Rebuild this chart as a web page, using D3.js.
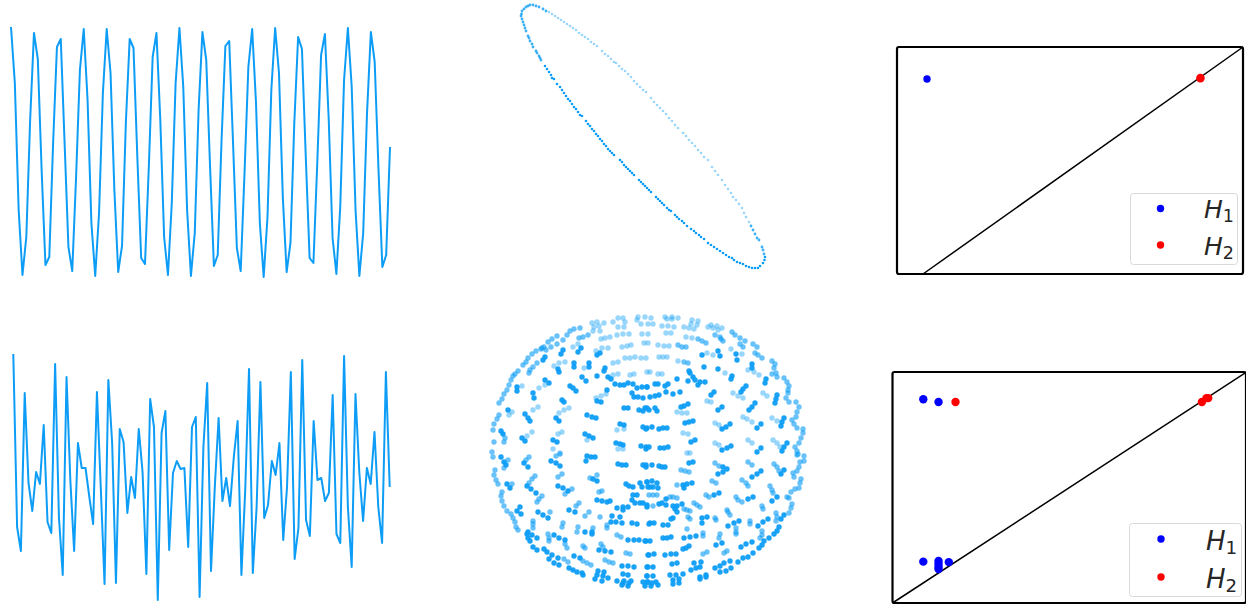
<!DOCTYPE html>
<html lang="en">
<head>
<meta charset="UTF-8">
<title>Sliding windows and persistence</title>
<script src="https://d3js.org/d3.v7.min.js"></script>
<style>
    body { margin: 0; background: #fff; }
    svg { display: block; }
    .legend-label { font-family: "DejaVu Sans", sans-serif; font-style: italic; fill: #262626; }
    .legend-label tspan { font-style: normal; }
</style>
</head>
<body>
<svg id="chart" width="1246" height="605"></svg>
<script>
const signalTop = [250,194,67,2,40,157,244,218,107,12,20,134,230,238,134,30,6,100,207,248,177,54,1,64,184,248,204,87,5,31,154,238,229,120,19,13,110,220,244,157,40,2,74,194,249,190,67,1,44,167,245,217,110,11,22,137,231,236,134,29,6,104,210,248,174,54,0,60,187,249,204,80,5,34,154,240,228,120,19,14,114,222,243,157,39,3,70,197,249,190,67,1,44,164,245,215,107,10,22,130];
const signalBottom = [246,73,49,207,117,89,128,116,175,78,67,236,83,25,223,120,49,157,132,132,103,76,208,113,16,220,157,17,171,158,87,123,102,171,128,26,201,173,0,167,189,50,127,139,131,132,53,173,183,3,153,217,29,113,182,99,122,94,143,179,25,110,231,27,93,218,82,95,139,125,157,60,113,228,41,72,240,80,64,179,120,122,99,107,205,66,57,244,93,33,206,128,79,132,116,168,93,57,228,113];

// point clouds have no axes so these are just the positions
const ellipseFront = [[586,121],[588,124],[590,126],[592,129],[594,131],[596,134],[598,136],[600,139],[602,141],[604,144],[606,146],[608,149],[610,151],[612,153],[614,155],[620,160],[622,162],[624,165],[626,167],[628,169],[630,171],[632,173],[634,175],[639,180],[641,182],[643,184],[645,186],[647,188],[649,190],[651,192],[656,197],[658,199],[660,201],[662,203],[664,205],[667,208],[669,210],[671,211],[675,215],[677,217],[679,219],[682,221],[684,223],[687,226],[691,229],[694,231],[696,233],[699,235],[701,237],[704,239],[708,243],[711,245],[714,247],[717,249],[720,251],[723,253],[726,255],[729,257],[732,258],[734,260],[737,262],[740,263],[743,264],[746,266],[749,267],[752,268],[755,268],[758,268],[760,266],[763,263],[764.5,260],[765,257],[564,93],[566,96],[568,99],[570,101],[572,104],[574,107],[576,109],[578,112],[580,115],[582,116],[557,84],[560,87],[562,90],[549,72],[551,75],[552,78],[554,79],[545,66],[547,69]];
const ellipseSide = [[530,5],[528,6],[526,7],[524,9],[522,11],[521.5,14],[521,16],[522,19],[523,22],[524,25],[525,28],[526,31],[528,36],[529,38],[530,41],[532,44],[533,47],[536,51],[537,53],[539,56],[540,58],[541,60],[764,254],[763,250],[762,247],[759,240],[757,238],[755,234],[753,230],[751,226],[533,5],[536,6],[539,7],[543,9],[546,11]];
const ellipseBack = [[549,12],[552,14],[555,16],[558,18],[561,20],[564,22],[567,24],[570,26],[573,28],[576,30],[579,33],[582,35],[585,37],[588,39],[591,42],[594,44],[597,46],[602,51],[605,54],[608,56],[611,59],[614,62],[616,63],[619,66],[622,69],[625,71],[628,74],[631,77],[634,81],[637,84],[640,87],[643,90],[646,92],[651,98],[654,102],[657,105],[660,108],[663,111],[666,114],[669,118],[672,121],[675,125],[678,128],[683,133],[686,136],[689,140],[692,143],[695,146],[698,150],[701,153],[704,157],[708,160],[712,167],[715,171],[718,175],[722,180],[725,185],[728,189],[731,193],[733,197],[736,200],[739,204],[742,208],[744,213],[746,217],[749,222]];

const torusBack = [[592,323],[597,322],[599,326],[604,323],[594,327],[593,331],[600,331],[613,322],[618,318],[623,318],[625,322],[638,317],[637,320],[645,317],[641,324],[648,324],[601,339],[605,338],[610,337],[618,327],[624,327],[617,335],[623,334],[629,334],[642,334],[648,334],[622,347],[627,346],[631,345],[644,343],[648,343],[625,358],[630,358],[635,357],[641,358],[646,358],[613,363],[618,362],[647,372],[651,318],[653,324],[665,317],[667,319],[672,317],[672,319],[678,318],[662,326],[668,326],[674,327],[666,333],[671,333],[692,320],[698,321],[691,324],[697,325],[684,327],[689,328],[694,329],[708,327],[711,325],[717,326],[713,328],[718,330],[722,328],[686,337],[692,338],[658,345],[664,346],[669,346],[659,357],[663,357],[667,357],[678,361],[650,372],[658,374],[662,374],[573,347],[578,344],[596,351],[602,348],[608,348],[554,366],[559,363],[565,362],[584,368],[539,388],[545,385],[559,413],[564,410],[569,408],[533,410],[538,407],[522,386],[601,396],[596,398],[606,394],[713,355],[707,353],[725,373],[733,393],[738,396],[743,398],[707,401],[711,402],[763,393],[767,396],[677,412],[682,413],[687,413],[743,417],[747,419],[752,422],[772,418],[777,421],[715,423],[719,425],[748,370],[754,372],[759,375],[731,349],[742,354],[683,433],[688,434],[715,443],[719,445],[748,440],[752,443],[773,440],[777,443],[780,447],[687,453],[690,453],[532,432],[527,436],[558,434],[562,432],[553,449],[560,453],[617,430],[624,429],[587,440],[618,449],[623,449],[512,412],[509,415],[630,375],[634,374],[613,375],[618,374]];
const torusEdge = [[492,452],[494,442],[493,430],[494,424],[497,419],[499,415],[499,403],[502,399],[504,394],[507,390],[509,385],[511,380],[513,376],[515,374],[518,371],[523,365],[526,362],[528,358],[532,354],[536,351],[541,349],[544,347],[548,342],[552,339],[557,336],[563,340],[567,335],[570,331],[574,329],[580,328],[579,338],[583,337],[588,335],[557,344],[551,347],[546,350],[542,348],[530,370],[529,373],[533,367],[537,363],[732,332],[735,335],[740,338],[745,341],[740,344],[743,347],[753,344],[757,347],[715,335],[720,337],[721,339],[723,341],[698,339],[702,341],[706,343],[678,345],[682,347],[686,347],[684,362],[688,363],[755,353],[758,355],[762,358],[772,361],[775,364],[774,368],[776,373],[777,377],[772,374],[784,378],[787,382],[789,386],[788,390],[788,393],[786,398],[789,402],[796,402],[799,407],[797,412],[796,417],[792,420],[794,424],[797,428],[803,429],[803,433],[801,438],[799,443],[795,447],[797,451],[798,454],[797,455],[804,456],[804,461],[800,462],[799,467],[797,471],[793,473],[794,477],[801,479],[800,483],[799,488],[795,489],[791,492],[789,498],[787,497],[792,504],[791,508],[789,513],[493,457],[495,470],[494,475],[496,480],[498,484],[502,492],[501,496],[502,501],[504,506],[507,511],[511,514],[513,518],[515,522],[516,527],[518,530],[505,438],[504,442],[508,460],[504,468],[512,484],[529,457],[526,460],[556,456],[560,454],[535,476],[532,479],[529,483],[562,474],[558,477],[572,489],[565,494],[597,475],[590,478],[542,496],[539,499],[537,502],[550,512],[533,521],[533,524],[533,528],[563,523],[562,527],[579,503],[576,506],[589,512],[585,516],[600,517],[602,491],[599,492],[607,525],[607,528],[578,527],[577,532],[593,528],[601,544],[603,547],[548,534],[549,538],[549,541],[565,544],[567,548],[583,546],[585,548],[617,535],[621,537],[583,561],[587,563],[591,565],[605,560],[609,562],[613,563],[626,553],[630,554],[564,559],[568,562],[681,470],[685,471],[689,472],[715,463],[719,466],[748,462],[752,465],[774,464],[777,467],[779,471],[712,481],[716,483],[742,480],[746,483],[748,486],[770,486],[772,490],[773,493],[706,495],[709,497],[736,497],[738,500],[742,502],[670,497],[673,497],[677,498],[694,503],[697,505],[700,507],[727,510],[728,512],[730,515],[762,506],[763,509],[688,517],[690,519],[715,518],[716,520],[750,521],[750,524],[736,528],[736,532],[736,534],[762,531],[762,535],[760,538],[703,533],[703,536],[720,534],[719,538],[687,529],[727,551],[724,553],[707,552],[703,554],[649,495],[653,495],[657,495],[687,510],[684,509],[690,511],[653,506],[776,513],[777,517],[776,521],[677,485]];
const torusFront = [[578,352],[581,348],[563,350],[561,354],[600,353],[597,355],[545,357],[543,360],[574,363],[574,367],[558,369],[559,372],[589,363],[589,367],[605,368],[604,371],[517,387],[517,391],[545,380],[549,383],[582,377],[586,381],[597,376],[608,377],[611,379],[615,384],[620,385],[624,385],[628,383],[633,384],[570,386],[573,388],[576,391],[637,388],[642,387],[647,387],[607,390],[597,401],[601,402],[632,393],[634,397],[638,397],[643,398],[533,393],[534,398],[562,400],[564,402],[508,410],[525,414],[528,418],[530,421],[556,418],[559,421],[587,415],[592,417],[596,418],[624,408],[628,408],[639,410],[643,411],[647,408],[620,424],[624,425],[643,427],[646,429],[501,431],[503,434],[522,438],[525,441],[553,440],[557,442],[585,434],[589,436],[593,438],[616,443],[620,444],[623,445],[641,446],[646,447],
[702,355],[718,351],[720,356],[736,354],[737,360],[704,367],[689,371],[690,373],[718,369],[752,364],[752,368],[732,376],[731,379],[677,379],[688,381],[693,377],[695,380],[700,382],[705,382],[698,385],[766,379],[765,383],[655,384],[658,384],[647,387],[668,384],[665,386],[666,392],[673,394],[680,392],[659,395],[655,396],[650,397],[746,386],[743,389],[741,392],[714,392],[711,395],[777,395],[776,399],[775,403],[688,404],[684,406],[681,407],[722,407],[718,410],[755,403],[752,407],[749,410],[645,408],[649,410],[657,411],[655,408],[784,418],[782,422],[781,426],[685,423],[689,422],[693,421],[761,424],[757,428],[730,424],[726,427],[722,429],[647,428],[652,427],[659,429],[663,428],[667,428],[695,440],[691,442],[731,446],[727,448],[722,450],[761,448],[757,452],[787,443],[784,447],[782,451],[649,447],[646,449],[660,448],[664,448],[668,447],
[501,457],[504,462],[506,465],[524,463],[528,467],[551,461],[556,463],[560,466],[587,456],[591,457],[595,457],[586,461],[618,464],[622,465],[626,465],[643,465],[646,467],[527,486],[531,489],[536,493],[558,486],[563,488],[568,491],[593,479],[597,481],[507,484],[510,488],[520,507],[517,511],[521,514],[626,484],[629,486],[633,487],[640,483],[642,487],[647,482],[648,487],[597,500],[602,501],[607,502],[610,501],[633,495],[637,495],[632,500],[635,503],[640,503],[643,503],[647,505],[628,507],[623,507],[617,508],[623,510],[612,516],[569,510],[575,512],[538,512],[543,515],[548,518],[620,517],[611,522],[616,522],[622,523],[632,523],[637,524],[649,524],[592,532],[585,532],[592,534],[528,532],[527,534],[532,535],[528,538],[537,538],[530,541],[554,535],[559,538],[565,540],[628,540],[634,540],[639,540],[646,541],[533,547],[537,550],[544,549],[547,552],[552,555],[558,558],[549,559],[554,563],[559,565],[574,556],[580,558],[599,550],[605,551],[611,552],[648,555],[622,566],[628,566],[634,567],[647,567],[569,568],[573,570],[577,572],[582,573],[583,575],[598,571],[604,572],[597,575],[603,576],[595,579],[602,581],[608,578],[623,574],[628,575],[647,576],[617,581],[624,581],[631,581],[623,583],[629,583],[622,585],[628,586],[643,582],[648,582],[645,586],
[652,465],[659,466],[662,467],[665,467],[646,465],[689,463],[693,462],[723,467],[727,469],[723,472],[718,474],[761,471],[757,474],[752,477],[784,470],[781,474],[692,483],[687,484],[683,485],[684,488],[777,497],[772,501],[719,493],[714,495],[748,499],[753,497],[647,482],[652,481],[657,483],[650,487],[653,487],[658,488],[666,499],[662,503],[659,504],[647,507],[666,505],[673,506],[677,506],[682,504],[675,509],[677,512],[702,518],[707,517],[702,523],[673,518],[671,519],[650,523],[654,523],[663,525],[668,525],[728,526],[734,523],[739,521],[784,515],[781,519],[768,519],[763,522],[758,526],[779,527],[777,531],[774,534],[769,538],[764,541],[762,545],[759,548],[684,538],[690,537],[696,536],[663,538],[667,538],[671,537],[645,541],[650,541],[722,543],[716,545],[752,542],[746,544],[741,547],[689,546],[686,548],[683,549],[649,555],[654,554],[665,555],[671,554],[676,554],[753,553],[748,557],[743,558],[738,562],[730,561],[724,563],[720,566],[715,568],[731,568],[726,571],[720,572],[677,563],[672,564],[701,562],[694,563],[700,567],[696,568],[691,570],[648,567],[653,567],[683,574],[676,575],[670,575],[706,575],[700,577],[706,577],[700,579],[647,576],[653,576],[679,579],[679,583],[673,580],[673,584],[647,582],[652,583],[656,582],[658,585],[651,586]];

// persistence diagrams as [birth, death]
const topH1 = [[0.0125,0.859]];
const topH2 = [[0.867,0.863]];
const bottomH1 = [[0.087,0.882],[0.130,0.870],[0.087,0.179],[0.130,0.182],[0.130,0.169],[0.130,0.156],[0.130,0.147],[0.159,0.177]];
const bottomH2 = [[0.178,0.870],[0.874,0.870],[0.887,0.887],[0.892,0.887]];
const diagonal = [[0,0],[1,1]];
const legendNames = ['1','2'];

const lineColor = '#0d9df6';
const svg = d3.select('#chart');

function drawSignal(values, x0, x1, y0, y1, top) {
    const x = d3.scaleLinear().domain([0, values.length - 1]).range([x0, x1]);
    const y = d3.scaleLinear().domain([0, top]).range([y0, y1]);
    svg.append('path')
        .datum(values)
        .attr('fill', 'none')
        .attr('stroke', lineColor)
        .attr('stroke-width', 2)
        .attr('stroke-linejoin', 'round')
        .attr('d', d3.line().x((d, i) => x(i)).y(d => y(d)));
}

function drawCloud(points, r, opacity) {
    const x = d3.scaleIdentity().domain([0, 1246]);
    const y = d3.scaleIdentity().domain([0, 605]);
    svg.append('g')
        .selectAll('circle')
        .data(points)
        .enter().append('circle')
        .attr('cx', d => x(d[0]))
        .attr('cy', d => y(d[1]))
        .attr('r', r)
        .attr('fill', lineColor)
        .attr('fill-opacity', opacity);
}

function drawDiagram(h1, h2, p) {
    const x = d3.scaleLinear().domain([0, 1]).range([p.x0, p.x1]);
    const y = d3.scaleLinear().domain([0, 1]).range([p.y0, p.y1]);
    const g = svg.append('g');

    g.append('path')
        .datum(diagonal)
        .attr('fill', 'none')
        .attr('stroke', '#000')
        .attr('stroke-width', 1.5)
        .attr('d', d3.line().x(d => x(d[0])).y(d => y(d[1])));

    [[h1, '#0000ff', p.r], [h2, '#ff0000', p.r2]].forEach(([pts, color, r]) => {
        g.selectAll(null)
            .data(pts)
            .enter().append('circle')
            .attr('cx', d => x(d[0]))
            .attr('cy', d => y(d[1]))
            .attr('r', r)
            .attr('fill', color);
    });

    g.append('rect')
        .attr('x', p.left)
        .attr('y', p.y1)
        .attr('width', p.right - p.left)
        .attr('height', p.y0 - p.y1)
        .attr('rx', 2)
        .attr('fill', 'none')
        .attr('stroke', '#000')
        .attr('stroke-width', 2.2);

    // legend
    g.append('rect')
        .attr('x', p.lx)
        .attr('y', p.ly)
        .attr('width', p.lw)
        .attr('height', p.lh)
        .attr('rx', 3)
        .attr('fill', '#fff')
        .attr('fill-opacity', 0.8)
        .attr('stroke', '#d9d9d9');

    legendNames.forEach((name, i) => {
        g.append('circle')
            .attr('cx', p.dotX)
            .attr('cy', p.dotY[i])
            .attr('r', 3.7)
            .attr('fill', i === 0 ? '#0000ff' : '#ff0000');
        const t = g.append('text')
            .attr('class', 'legend-label')
            .attr('x', p.textX)
            .attr('y', p.textY[i])
            .style('font-size', p.font + 'px')
            .text('H');
        t.append('tspan').attr('dy', 4).style('font-size', (p.font * 0.7) + 'px').text(name);
    });
}

drawSignal(signalTop, 11, 390, 277, 27, 250);
drawSignal(signalBottom, 13.3, 389.7, 600, 354, 246);

drawCloud(ellipseBack, 1.3, 0.42);
drawCloud(ellipseSide, 1.4, 0.8);
drawCloud(ellipseFront, 1.3, 1);

drawCloud(torusBack, 2.7, 0.42);
drawCloud(torusEdge, 2.7, 0.62);
drawCloud(torusFront, 2.7, 0.95);

drawDiagram(topH1, topH2, {
    x0: 923, x1: 1243, y0: 274, y1: 47, left: 897, right: 1243, r: 3.7, r2: 4.3,
    lx: 1130.5, ly: 193.5, lw: 107, lh: 71,
    dotX: 1160.5, dotY: [208.5, 245], textX: 1204, textY: [218, 255], font: 25
});
drawDiagram(bottomH1, bottomH2, {
    x0: 892.5, x1: 1246.5, y0: 603, y1: 372, left: 892.5, right: 1246, r: 4.2, r2: 4.2,
    lx: 1129.5, ly: 523.5, lw: 112, lh: 73,
    dotX: 1161, dotY: [539, 577], textX: 1206, textY: [550, 588], font: 26
});
</script>
</body>
</html>
